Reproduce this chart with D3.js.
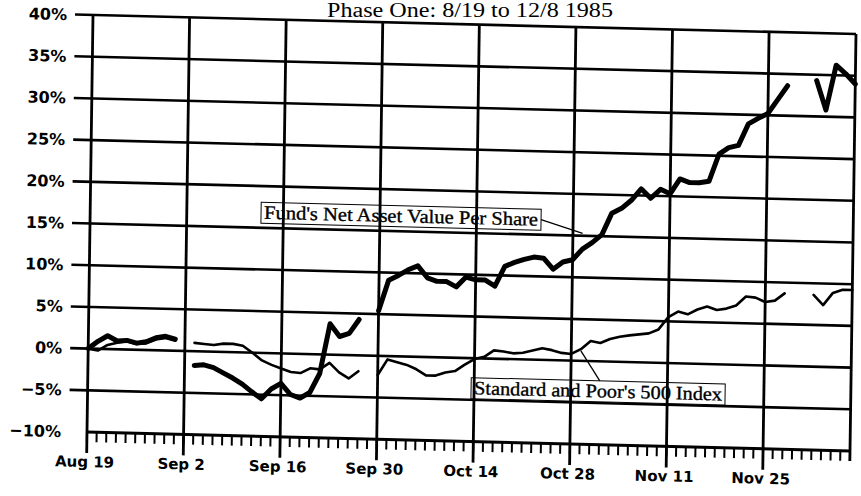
<!DOCTYPE html>
<html><head><meta charset="utf-8">
<script src="https://cdn.jsdelivr.net/npm/d3@7/dist/d3.min.js"></script>
<style>html,body{margin:0;padding:0;background:#fff;} svg{display:block;}</style>
</head><body>
<svg id="c" width="861" height="496"></svg>
<script>
// Trading-week slots (weekdays) from Aug 19 to Dec 6, 1985
const dates = [
 "1985-08-19","1985-08-20","1985-08-21","1985-08-22","1985-08-23","1985-08-26","1985-08-27","1985-08-28","1985-08-29","1985-08-30",
 "1985-09-02","1985-09-03","1985-09-04","1985-09-05","1985-09-06","1985-09-09","1985-09-10","1985-09-11","1985-09-12","1985-09-13",
 "1985-09-16","1985-09-17","1985-09-18","1985-09-19","1985-09-20","1985-09-23","1985-09-24","1985-09-25","1985-09-26","1985-09-27",
 "1985-09-30","1985-10-01","1985-10-02","1985-10-03","1985-10-04","1985-10-07","1985-10-08","1985-10-09","1985-10-10","1985-10-11",
 "1985-10-14","1985-10-15","1985-10-16","1985-10-17","1985-10-18","1985-10-21","1985-10-22","1985-10-23","1985-10-24","1985-10-25",
 "1985-10-28","1985-10-29","1985-10-30","1985-10-31","1985-11-01","1985-11-04","1985-11-05","1985-11-06","1985-11-07","1985-11-08",
 "1985-11-11","1985-11-12","1985-11-13","1985-11-14","1985-11-15","1985-11-18","1985-11-19","1985-11-20","1985-11-21","1985-11-22",
 "1985-11-25","1985-11-26","1985-11-27","1985-11-28","1985-11-29","1985-12-02","1985-12-03","1985-12-04","1985-12-05","1985-12-06"
];
// Fund's Net Asset Value Per Share, % change (null = not plotted)
const fundNAV = [
 0.0,0.9,1.6,1.0,1.1,0.8,1.0,1.5,1.7,1.4,
 null,-1.7,-1.6,-1.9,-2.5,-3.1,-3.8,-4.7,-5.5,-4.3,
 -3.6,-4.9,-5.3,-4.6,-2.3,3.7,2.2,2.6,4.3,null,
 5.4,9.1,9.7,10.4,10.9,9.5,9.1,9.1,8.5,9.7,
 9.4,9.4,8.7,11.1,11.6,12.0,12.3,12.2,10.9,11.8,
 12.1,13.4,14.2,15.2,17.8,18.4,19.4,20.8,19.7,20.8,
 20.3,22.1,21.7,21.7,21.9,25.2,26.0,26.3,28.9,29.6,
 30.2,31.9,33.6,null,null,34.3,30.8,36.2,35.2,34.0
];
// Standard and Poor's 500 Index, % change
const sp500 = [
 0.0,-0.2,0.5,0.8,1.0,0.7,0.8,1.3,1.5,1.2,
 null,1.0,0.9,0.8,1.0,1.0,0.8,0.0,-0.9,-1.4,
 -1.8,-2.2,-2.3,-1.7,-1.8,-1.0,-2.1,-2.8,-1.9,null,
 -2.3,-0.4,-0.7,-1.0,-1.5,-2.2,-2.2,-1.8,-1.6,-0.8,
 -0.1,0.2,1.0,0.9,0.7,0.8,1.1,1.4,1.2,0.9,
 0.8,1.4,2.4,2.2,2.7,3.0,3.2,3.35,3.5,4.0,
 5.5,6.2,5.9,6.5,6.9,6.5,6.7,7.1,8.2,8.1,
 7.6,7.8,8.7,null,null,8.6,7.4,8.9,9.3,9.3
];
const yTicks = [40,35,30,25,20,15,10,5,0,-5,-10];
const yTickLabels = ["40%","35%","30%","25%","20%","15%","10%","5%","0%","\u22125%","\u221210%"];
const xTickDates = ["1985-08-19","1985-09-02","1985-09-16","1985-09-30","1985-10-14","1985-10-28","1985-11-11","1985-11-25"];
const xTickLabels = ["Aug 19","Sep 2","Sep 16","Sep 30","Oct 14","Oct 28","Nov 11","Nov 25"];
const titleText = "Phase One: 8/19 to 12/8 1985";
const labelTexts = ["Fund's Net Asset Value Per Share", "Standard and Poor's 500 Index"];
const labelAt = [["1985-09-12", 16.8], ["1985-10-14", -3.6]];
const pointerTo = [["1985-10-29", 15.3], ["1985-10-29", 1.2]];

const W = 763, H = 417;
const svg = d3.select("#c");
svg.append("rect").attr("width",861).attr("height",496).attr("fill","#fff");

// title
svg.append("text").attr("x", 470).attr("y", 17).attr("text-anchor","middle")
 .attr("font-family","'Liberation Serif', serif").attr("font-size",20)
 .attr("textLength",286).attr("lengthAdjust","spacingAndGlyphs").text(titleText);

// the scanned page is slightly skewed
const g = svg.append("g").attr("transform","matrix(1,0.0249,-0.0144,1,93,15)");

const x = d3.scalePoint().domain(dates).range([0, W]);
const y = d3.scaleLinear().domain([-10, 40]).range([H, 0]);

// horizontal grid lines
g.selectAll("line.h").data(yTicks).join("line")
 .attr("x1", d => d === -10 ? 0 : -18).attr("x2", W)
 .attr("y1", d => y(d)).attr("y2", d => y(d))
 .attr("stroke","#000").attr("stroke-width", d => d === -10 ? 3 : 2.6);

// y labels
g.selectAll("text.yl").data(yTicks).join("text")
 .attr("x", -26).attr("y", d => y(d)).attr("dy","0.36em").attr("text-anchor","end")
 .attr("font-family","'DejaVu Sans', sans-serif").attr("font-weight","bold").attr("font-size",16)
 .text((d,i) => yTickLabels[i]);

// label boxes
const boxW = [280, 254], tl = [274, 248];
labelTexts.forEach((t,i) => {
  const bx = x(labelAt[i][0]) - 3, cy = y(labelAt[i][1]);
  g.append("rect").attr("x", bx).attr("y", cy - 10.5).attr("width", boxW[i]).attr("height", 21)
   .attr("fill","#fff").attr("stroke","#000").attr("stroke-width",1);
  g.append("text").attr("x", bx + 3).attr("y", cy + 6)
   .attr("font-family","'Liberation Serif', serif").attr("font-size",19)
   .attr("stroke","#000").attr("stroke-width",0.35)
   .attr("textLength", tl[i]).attr("lengthAdjust","spacingAndGlyphs").text(t);
  let sx, sy;
  if (i === 0) { sx = bx + boxW[i]; sy = cy; }
  else { sx = x("1985-10-31"); sy = cy - 10.5; }
  g.append("line").attr("x1", sx).attr("y1", sy)
   .attr("x2", x(pointerTo[i][0])).attr("y2", y(pointerTo[i][1]))
   .attr("stroke","#000").attr("stroke-width",1.3);
});

// vertical grid lines (major) + right frame
g.selectAll("line.v").data(xTickDates).join("line")
 .attr("x1", d => x(d)).attr("x2", d => x(d))
 .attr("y1", 0).attr("y2", H + 21)
 .attr("stroke","#000").attr("stroke-width",2.8);
g.append("line").attr("x1", W).attr("x2", W).attr("y1", 0).attr("y2", H + 10)
 .attr("stroke","#000").attr("stroke-width",2.8);

// minor ticks, one per weekday
g.selectAll("line.t").data(dates).join("line")
 .attr("x1", d => x(d)).attr("x2", d => x(d))
 .attr("y1", H).attr("y2", H + 10)
 .attr("stroke","#000").attr("stroke-width",2);

// x labels
g.selectAll("text.xl").data(xTickDates).join("text")
 .attr("x", d => x(d) - 2).attr("y", H + 35).attr("text-anchor","middle")
 .attr("font-family","'DejaVu Sans', sans-serif").attr("font-weight","bold").attr("font-size",15)
 .text((d,i) => xTickLabels[i]);

// series
const line = d3.line().defined(d => d.v != null).x(d => x(d.date)).y(d => y(d.v)).curve(d3.curveLinear);
const sp = dates.map((d,i) => ({date:d, v: sp500[i]}));
const fd = dates.map((d,i) => ({date:d, v: fundNAV[i]}));
g.append("path").attr("d", line(sp)).attr("fill","none").attr("stroke","#000")
 .attr("stroke-width",2.6).attr("stroke-linejoin","round").attr("stroke-linecap","round");
g.append("path").attr("d", line(fd)).attr("fill","none").attr("stroke","#000")
 .attr("stroke-width",5).attr("stroke-linejoin","round").attr("stroke-linecap","round");
</script>
</body></html>
